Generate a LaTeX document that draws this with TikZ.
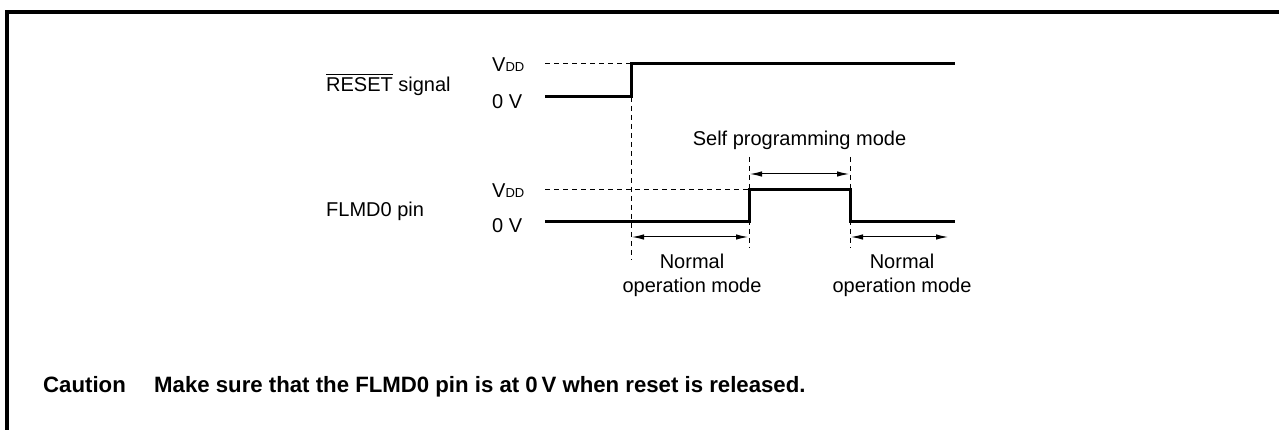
\documentclass[tikz,border=0pt]{standalone}
\usepackage{fontspec}
\setmainfont{Liberation Sans}
\usetikzlibrary{arrows.meta}
\newcommand\myovl[1]{\setbox0\hbox{#1}\rlap{\rule[\dimexpr\ht0+3.5pt\relax]{\wd0}{1pt}}\box0\relax}
\newcommand\vdd{V{\fontsize{13}{15}\selectfont DD}}
\begin{document}
\begin{tikzpicture}[x=1pt,y=-1pt,
  lbl/.style={inner sep=0pt, font=\fontsize{20}{24}\selectfont},
  modelbl/.style={inner sep=0pt, align=center, font=\fontsize{20}{24}\selectfont},
  caut/.style={inner sep=0pt, font=\fontsize{22.2}{26}\selectfont\bfseries},
  wave/.style={line width=3pt},
  dsh/.style={line width=1pt, dash pattern=on 5pt off 4pt},
  dim/.style={line width=1pt, {Latex[length=12pt,width=5.5pt]}-{Latex[length=12pt,width=5.5pt]}},
  frame/.style={line width=3.5pt}]
\useasboundingbox (0,0) rectangle (1279,430);
% frame
\coordinate (fb) at (7,432);
\coordinate (fc) at (7,12);
\coordinate (fr) at (1281,12);
\draw[frame] (fb) -- (fc) -- (fr);
% labels
\node[lbl, anchor=base west] (rlab) at (326,92) {\myovl{RESET} signal};
\node[lbl, anchor=base west] (flab) at (326,217) {FLMD0 pin};
\node[lbl, anchor=base west] (rvdd) at (492,72) {\vdd};
\node[lbl, anchor=base west] (r0v) at (492,109) {0 V};
\node[lbl, anchor=base west] (fvdd) at (492,198) {\vdd};
\node[lbl, anchor=base west] (f0v) at (492,233) {0 V};
% RESET waveform
\coordinate (r0) at (545,97);
\coordinate (r1) at (631,97);
\coordinate (r2) at (631,64);
\coordinate (r3) at (955,64);
\coordinate (rh) at (545,64);
\draw[wave] (r0) -- (r1) -- (r2) -- (r3);
\draw[dsh] (rh) -- (r2);
% FLMD0 waveform
\coordinate (f0) at (545,222);
\coordinate (f1) at (749,222);
\coordinate (f2) at (749,190);
\coordinate (f3) at (850,190);
\coordinate (f4) at (850,222);
\coordinate (f5) at (955,222);
\coordinate (fh) at (545,190);
\draw[wave] (f0) -- (f1) -- (f2) -- (f3) -- (f4) -- (f5);
\draw[dsh] (fh) -- (f2);
% vertical dashed guides
\coordinate (g1) at (631,260);
\coordinate (g2t) at (749,157);
\coordinate (g2b) at (749,248);
\coordinate (g3t) at (850,157);
\coordinate (g3b) at (850,248);
\draw[dsh] (r1) -- (g1);
\draw[dsh] (g2t) -- (g2b);
\draw[dsh] (g3t) -- (g3b);
% dimension arrows
\coordinate (a1) at (750,174);
\coordinate (a2) at (849,174);
\coordinate (b1) at (632,237);
\coordinate (b2) at (748,237);
\coordinate (c1) at (851,237);
\coordinate (c2) at (948,237);
\draw[dim] (a1) -- (a2);
\draw[dim] (b1) -- (b2);
\draw[dim] (c1) -- (c2);
% mode labels
\node[lbl, anchor=base] (self) at (799.5,146) {Self programming mode};
\node[modelbl, anchor=base] (n1) at (692,292) {Normal\\operation mode};
\node[modelbl, anchor=base] (n2) at (902,292) {Normal\\operation mode};
% caution
\node[caut, anchor=base west] (ct) at (43,392) {Caution};
\node[caut, anchor=base west] (cm) at (154,392) {Make sure that the FLMD0 pin is at 0\,V when reset is released.};
\end{tikzpicture}
\end{document}
